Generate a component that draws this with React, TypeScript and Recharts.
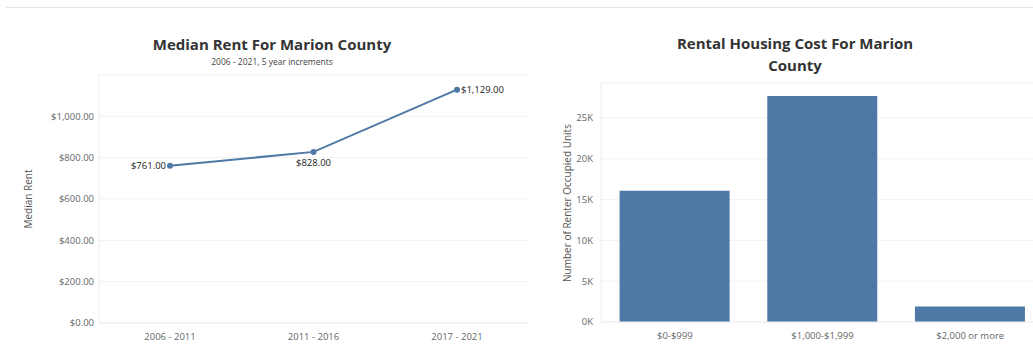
import React from 'react';
import {
  LineChart,
  Line,
  BarChart,
  Bar,
  XAxis,
  YAxis,
  CartesianGrid,
  LabelList,
} from 'recharts';

// ── Data ─────────────────────────────────────────────────────────────────────
const RENT_PERIODS = ['2006 - 2011', '2011 - 2016', '2017 - 2021'];
const MEDIAN_RENT = [761, 828, 1129];
const RENT_TICKS = [0, 200, 400, 600, 800, 1000];

const COST_BANDS = ['$0-$999', '$1,000-$1,999', '$2,000 or more'];
const RENTER_UNITS = [16100, 27700, 1900];
const UNIT_TICKS = [0, 5000, 10000, 15000, 20000, 25000];

const rentData = RENT_PERIODS.map((period, i) => ({ period, rent: MEDIAN_RENT[i] }));
const costData = COST_BANDS.map((band, i) => ({ band, units: RENTER_UNITS[i] }));

const FONT = '"Open Sans", sans-serif';
const BLUE = '#4e79a7';
const TICK_STYLE = { fill: '#666', fontSize: 9.5, fontFamily: FONT };

const money = (v: number) =>
  '$' + v.toLocaleString('en-US', { minimumFractionDigits: 2, maximumFractionDigits: 2 });

// label placement per point: left, below, right
const RentLabel = (props: any) => {
  const { x, y, value, index } = props;
  const text = money(value);
  const common = { fontSize: 9.5, fontFamily: FONT, fill: '#222', dominantBaseline: 'central' as const };
  if (index === 0) return <text x={x - 4} y={y} textAnchor="end" {...common}>{text}</text>;
  if (index === 1) return <text x={x} y={y + 11} textAnchor="middle" {...common}>{text}</text>;
  return <text x={x + 4} y={y} textAnchor="start" {...common}>{text}</text>;
};

const abs = (style: React.CSSProperties): React.CSSProperties => ({ position: 'absolute', ...style });

export default function App() {
  return (
    <div style={{ position: 'absolute', left: 0, top: 0, width: 1033, height: 349, overflow: 'hidden', background: '#fff', fontFamily: FONT }}>
      <div style={abs({ left: 6, top: 7, width: 1027, height: 1, background: '#e2e7ee' })} />

      {/* ── Median rent line chart ───────────────────────────────────────── */}
      <div style={abs({ left: 0, top: 34, width: 544, textAlign: 'center', fontSize: 15, fontWeight: 700, color: '#333' })}>
        Median Rent For Marion County
      </div>
      <div style={abs({ left: 0, top: 56, width: 544, textAlign: 'center', fontSize: 8.5, color: '#444' })}>
        2006 - 2021, 5 year increments
      </div>
      <div style={abs({ left: 28, top: 199, transform: 'translate(-50%, -50%) rotate(-90deg)', fontSize: 10, color: '#555', whiteSpace: 'nowrap' })}>
        Median Rent
      </div>
      <div style={abs({ left: 0, top: 0 })}>
        <LineChart width={540} height={349} data={rentData} margin={{ top: 75, right: 12, bottom: 6, left: 0 }}>
          <CartesianGrid stroke="#f1f1f1" vertical={false} />
          <XAxis
            dataKey="period"
            height={20}
            padding={{ left: 71, right: 71 }}
            tick={TICK_STYLE}
            tickLine={false}
            axisLine={{ stroke: '#eee' }}
            tickMargin={4}
            interval={0}
          />
          <YAxis
            width={99}
            domain={[0, 1200]}
            ticks={RENT_TICKS}
            tickFormatter={money}
            tick={TICK_STYLE}
            tickLine={false}
            tickSize={3}
            axisLine={{ stroke: '#eee' }}
          />
          <Line
            dataKey="rent"
            stroke={BLUE}
            strokeWidth={2}
            dot={{ r: 2, fill: BLUE, stroke: BLUE }}
            isAnimationActive={false}
          >
            <LabelList dataKey="rent" content={<RentLabel />} />
          </Line>
        </LineChart>
      </div>

      {/* ── Rental housing cost bar chart ────────────────────────────────── */}
      <div style={abs({ left: 560, top: 32, width: 470, textAlign: 'center', fontSize: 15, fontWeight: 700, color: '#333', lineHeight: '22px' })}>
        Rental Housing Cost For Marion<br />County
      </div>
      <div style={abs({ left: 567, top: 203, transform: 'translate(-50%, -50%) rotate(-90deg)', fontSize: 10, color: '#555', whiteSpace: 'nowrap' })}>
        Number of Renter Occupied Units
      </div>
      <div style={abs({ left: 520, top: 0 })}>
        <BarChart width={540} height={349} data={costData} margin={{ top: 83, right: 16, bottom: 7, left: 0 }} barCategoryGap="12.6%">
          <CartesianGrid stroke="#f1f1f1" vertical={false} />
          <XAxis
            dataKey="band"
            height={20}
            tick={TICK_STYLE}
            tickLine={false}
            axisLine={{ stroke: '#eee' }}
            tickMargin={4}
            interval={0}
          />
          <YAxis
            width={81}
            domain={[0, 29300]}
            ticks={UNIT_TICKS}
            tickFormatter={(v: number) => `${v / 1000}K`}
            tick={TICK_STYLE}
            tickLine={false}
            axisLine={{ stroke: '#eee' }}
          />
          <Bar dataKey="units" fill={BLUE} isAnimationActive={false} />
        </BarChart>
      </div>
    </div>
  );
}
